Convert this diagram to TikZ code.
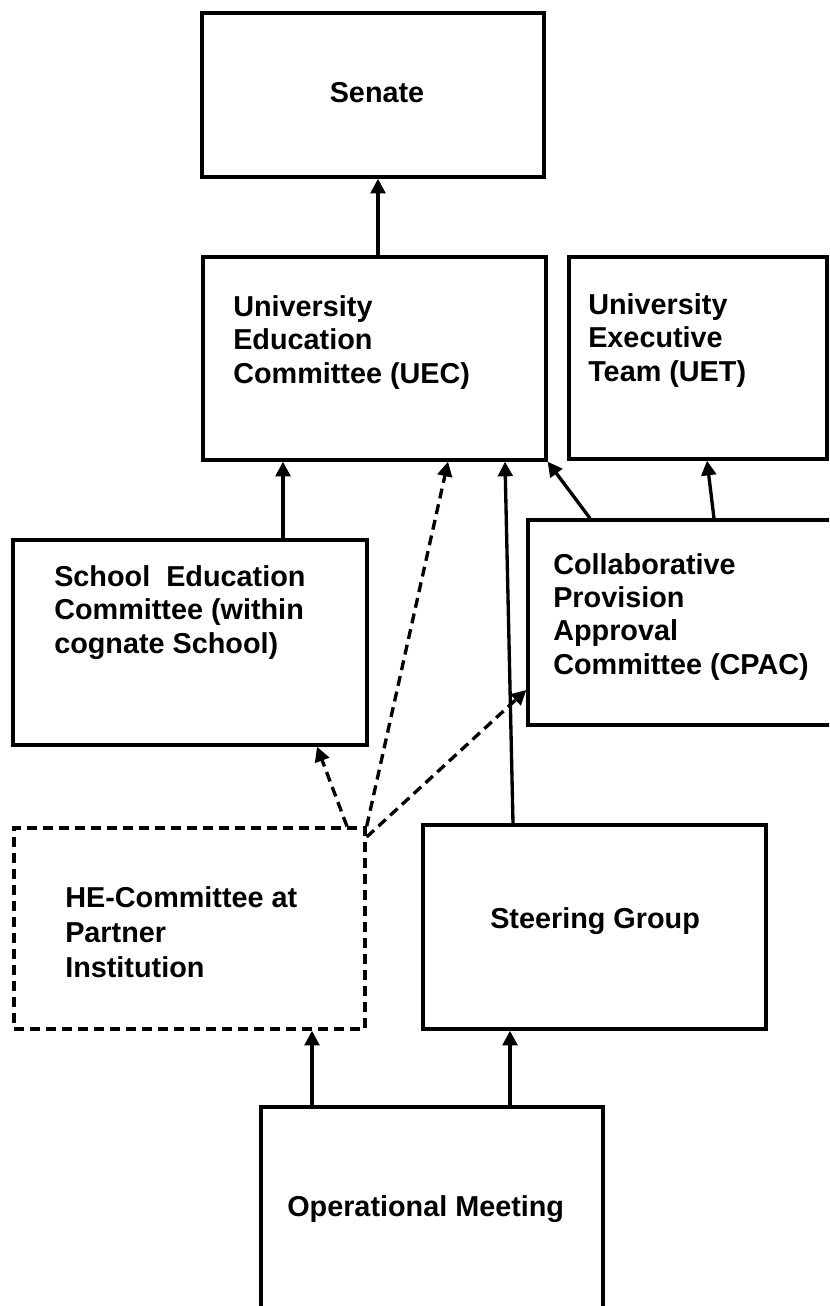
\documentclass[tikz,border=0pt]{standalone}
\usepackage{fontspec}
\setmainfont{Liberation Sans}
\usetikzlibrary{arrows.meta,fit}
\begin{document}
\begin{tikzpicture}[x=0.75pt,y=-0.75pt,
  box/.style={draw,line width=2.5pt,inner sep=0pt},
  dbox/.style={box,dash pattern=on 7.5pt off 4.5pt},
  lbl/.style={inner sep=0pt,anchor=base west,align=left,font=\fontsize{21.6}{25}\selectfont\bfseries},
  arr/.style={line width=2.5pt,-{Triangle[length=11pt,width=11pt]}},
  darr/.style={arr,dash pattern=on 7.5pt off 4.5pt}]
\useasboundingbox (0,0) rectangle (829,1306);
\clip (0,0) rectangle (829,1306);
% boxes
\node[box,fit={(202,13) (544,177)}] (senate) {};
\node[box,fit={(203,257) (546,460)}] (uec) {};
\node[box,fit={(569,257) (827,459)}] (uet) {};
\node[box,fit={(13,540) (367,745)}] (school) {};
\node[box,fit={(528,520) (870,725)}] (cpac) {};
\node[dbox,fit={(14,828) (365,1029)}] (he) {};
\node[box,fit={(423,825) (766,1029)}] (sg) {};
\node[box,fit={(261,1107) (603,1360)}] (op) {};
% labels (anchor = baseline of last line)
\node[lbl,anchor=base] (senatetxt) at (377,103) {Senate};
\node[lbl] (uectxt) at (233,383) {University\\Education\\Committee (UEC)};
\node[lbl] (uettxt) at (588,381) {University\\Executive\\Team (UET)};
\node[lbl] (schooltxt) at (54,653) {School\ \ Education\\Committee (within\\cognate School)};
\node[lbl] (cpactxt) at (553,674) {Collaborative\\Provision\\Approval\\Committee (CPAC)};
\node[lbl,font=\fontsize{21.6}{26}\selectfont\bfseries] (hetxt) at (65,977) {HE-Committee at\\Partner\\Institution};
\node[lbl] (sgtxt) at (490,928) {Steering Group};
\node[lbl] (optxt) at (287,1216) {Operational Meeting};
% connectors
\draw[arr] (uec.north -| 378,0) -- (senate.south -| 378,0);
\draw[arr] (school.north -| 283,0) -- (uec.south -| 283,0);
\draw[darr] (he.north -| 347,0) -- (school.south -| 317,0);
\draw[darr] (he.north east) -- (uec.south -| 448,0);
\draw[darr] (he.east |- 0,837) -- (cpac.west |- 0,690);
\draw[arr] (sg.north -| 513,0) -- (uec.south -| 505,0);
\draw[arr] (cpac.north -| 590,0) -- (uec.south east);
\draw[arr] (cpac.north -| 714,0) -- (uet.south -| 707,0);
\draw[arr] (op.north -| 312,0) -- (he.south -| 312,0);
\draw[arr] (op.north -| 510,0) -- (sg.south -| 510,0);
\end{tikzpicture}
\end{document}
